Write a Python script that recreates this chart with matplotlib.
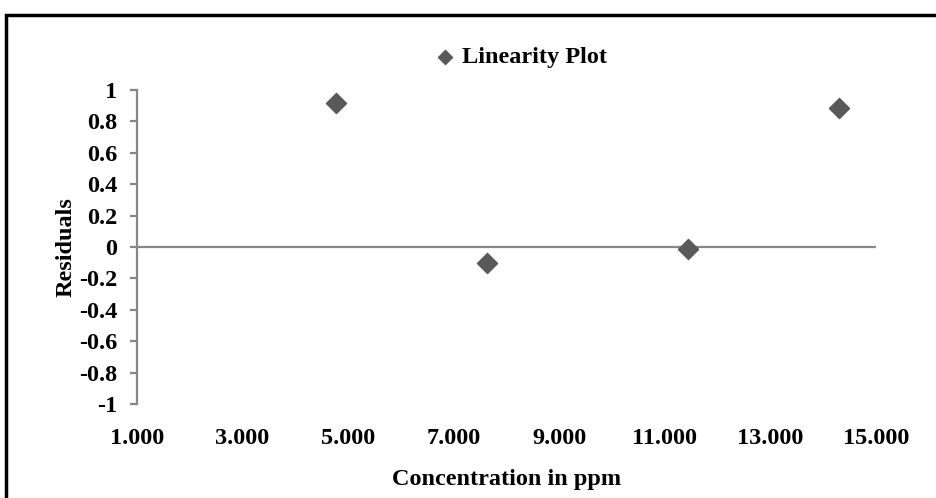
import matplotlib
matplotlib.use('Agg')
import matplotlib.pyplot as plt
from matplotlib.patches import Rectangle

# data
conc = [4.77, 7.63, 11.44, 14.30]
resid = [0.92, -0.10, -0.015, 0.885]
x_ticks = [1, 3, 5, 7, 9, 11, 13, 15]
y_ticks = [-1, -0.8, -0.6, -0.4, -0.2, 0, 0.2, 0.4, 0.6, 0.8, 1]
y_labels = ['-1', '-0.8', '-0.6', '-0.4', '-0.2', '0', '0.2', '0.4', '0.6', '0.8', '1']

plt.rcParams['font.family'] = ['Liberation Serif', 'DejaVu Serif']
plt.rcParams['font.weight'] = 'bold'

W, H = 936, 498
fs = 17.5
fig = plt.figure(figsize=(W / 100, H / 100), dpi=100)
ax = fig.add_axes([137 / W, 1 - 404 / H, (876 - 137) / W, (404 - 90) / H])

gray = '#878787'
ax.scatter(conc, resid, marker='D', s=105, color='#595959', zorder=3,
           label='Linearity Plot')
ax.axhline(0, color=gray, lw=1.6, zorder=1)

ax.set_xlim(1, 15)
ax.set_ylim(-1, 1)
ax.set_xticks(x_ticks)
ax.set_xticklabels(['{:.3f}'.format(v) for v in x_ticks])
ax.set_yticks(y_ticks)
ax.set_yticklabels(y_labels)

for s in ['top', 'right', 'bottom']:
    ax.spines[s].set_visible(False)
ax.spines['left'].set_color(gray)
ax.spines['left'].set_linewidth(1.6)

ax.tick_params(axis='x', length=0, pad=17, labelsize=fs)
ax.tick_params(axis='y', length=5, width=1.6, color=gray, pad=9, labelsize=fs)
for lab in ax.get_xticklabels() + ax.get_yticklabels():
    lab.set_fontweight('bold')

ax.set_xlabel('Concentration in ppm', fontsize=fs, fontweight='bold', labelpad=15)
ax.set_ylabel('Residuals', fontsize=fs, fontweight='bold', labelpad=2)

fig.legend(loc='center', bbox_to_anchor=(521 / W, 1 - 57 / H), frameon=False,
           handlelength=0.8, handletextpad=0.3,
           prop={'size': fs, 'weight': 'bold'}, markerscale=0.7)

# outer chart frame (cropped at right and bottom)
fig.patches.append(Rectangle((6 / W, -0.1), 1.2, 1.1 - 15 / H, transform=fig.transFigure,
                             fill=False, edgecolor='black', lw=2.5))

fig.savefig('out.png', dpi=100)
